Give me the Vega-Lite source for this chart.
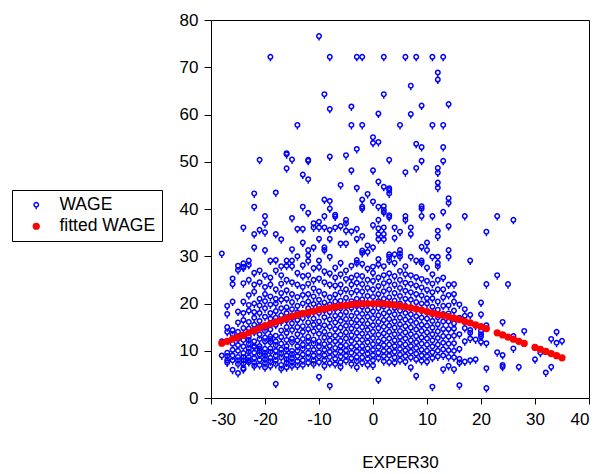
{
  "$schema": "https://vega.github.io/schema/vega-lite/v6.json",
  "width": 378,
  "height": 378,
  "autosize": "none",
  "padding": {"left": 211, "top": 20, "right": 11, "bottom": 76},
  "background": "white",
  "config": {
    "view": {"stroke": "black", "strokeWidth": 1},
    "font": "Liberation Sans",
    "axis": {
      "grid": false,
      "domain": false,
      "tickColor": "black",
      "labelColor": "black",
      "titleColor": "black",
      "labelFont": "Liberation Sans",
      "titleFont": "Liberation Sans",
      "labelFontSize": 17,
      "titleFontSize": 17,
      "titleFontWeight": "normal",
      "labelExpr": "'' + datum.value"
    },
    "legend": {
      "orient": "none",
      "legendX": -199,
      "legendY": 170,
      "strokeColor": "black",
      "fillColor": "white",
      "padding": 6,
      "rowPadding": 2.5,
      "labelFont": "Liberation Sans",
      "labelFontSize": 17.5,
      "labelColor": "black",
      "symbolSize": 52,
      "symbolStrokeWidth": 1.4,
      "symbolOpacity": 1,
      "symbolOffset": 9.5,
      "labelOffset": 14.5
    }
  },
  "data": {
    "values": [
      {"EXPER30":-28,"value":30.6,"series":"WAGE"},{"EXPER30":-28,"value":12.0,"series":"WAGE"},{"EXPER30":-28,"value":9.0,"series":"WAGE"},
      {"EXPER30":-27,"value":19.5,"series":"WAGE"},{"EXPER30":-27,"value":17.8,"series":"WAGE"},{"EXPER30":-27,"value":15.0,"series":"WAGE"},{"EXPER30":-27,"value":14.0,"series":"WAGE"},{"EXPER30":-27,"value":8.9,"series":"WAGE"},{"EXPER30":-27,"value":8.0,"series":"WAGE"},{"EXPER30":-27,"value":7.5,"series":"WAGE"},{"EXPER30":-27,"value":9.6,"series":"WAGE"},
      {"EXPER30":-26,"value":25.3,"series":"WAGE"},{"EXPER30":-26,"value":24.1,"series":"WAGE"},{"EXPER30":-26,"value":20.4,"series":"WAGE"},{"EXPER30":-26,"value":14.4,"series":"WAGE"},{"EXPER30":-26,"value":13.5,"series":"WAGE"},{"EXPER30":-26,"value":10.2,"series":"WAGE"},{"EXPER30":-26,"value":8.0,"series":"WAGE"},{"EXPER30":-26,"value":6.0,"series":"WAGE"},{"EXPER30":-26,"value":9.0,"series":"WAGE"},{"EXPER30":-26,"value":11.5,"series":"WAGE"},
      {"EXPER30":-25,"value":28.0,"series":"WAGE"},{"EXPER30":-25,"value":27.1,"series":"WAGE"},{"EXPER30":-25,"value":18.3,"series":"WAGE"},{"EXPER30":-25,"value":16.0,"series":"WAGE"},{"EXPER30":-25,"value":12.5,"series":"WAGE"},{"EXPER30":-25,"value":11.2,"series":"WAGE"},{"EXPER30":-25,"value":10.0,"series":"WAGE"},{"EXPER30":-25,"value":8.7,"series":"WAGE"},{"EXPER30":-25,"value":8.0,"series":"WAGE"},{"EXPER30":-25,"value":7.2,"series":"WAGE"},{"EXPER30":-25,"value":5.3,"series":"WAGE"},{"EXPER30":-25,"value":14.0,"series":"WAGE"},
      {"EXPER30":-24,"value":36.1,"series":"WAGE"},{"EXPER30":-24,"value":28.5,"series":"WAGE"},{"EXPER30":-24,"value":27.8,"series":"WAGE"},{"EXPER30":-24,"value":27.6,"series":"WAGE"},{"EXPER30":-24,"value":24.3,"series":"WAGE"},{"EXPER30":-24,"value":20.4,"series":"WAGE"},{"EXPER30":-24,"value":16.5,"series":"WAGE"},{"EXPER30":-24,"value":14.8,"series":"WAGE"},{"EXPER30":-24,"value":12.3,"series":"WAGE"},{"EXPER30":-24,"value":10.9,"series":"WAGE"},{"EXPER30":-24,"value":9.5,"series":"WAGE"},{"EXPER30":-24,"value":8.7,"series":"WAGE"},{"EXPER30":-24,"value":8.0,"series":"WAGE"},{"EXPER30":-24,"value":7.3,"series":"WAGE"},{"EXPER30":-24,"value":6.3,"series":"WAGE"},{"EXPER30":-24,"value":6.1,"series":"WAGE"},{"EXPER30":-24,"value":18.0,"series":"WAGE"},
      {"EXPER30":-23,"value":29.1,"series":"WAGE"},{"EXPER30":-23,"value":28.2,"series":"WAGE"},{"EXPER30":-23,"value":25.0,"series":"WAGE"},{"EXPER30":-23,"value":21.8,"series":"WAGE"},{"EXPER30":-23,"value":19.7,"series":"WAGE"},{"EXPER30":-23,"value":18.5,"series":"WAGE"},{"EXPER30":-23,"value":16.1,"series":"WAGE"},{"EXPER30":-23,"value":14.7,"series":"WAGE"},{"EXPER30":-23,"value":13.0,"series":"WAGE"},{"EXPER30":-23,"value":12.3,"series":"WAGE"},{"EXPER30":-23,"value":10.5,"series":"WAGE"},{"EXPER30":-23,"value":9.8,"series":"WAGE"},{"EXPER30":-23,"value":8.7,"series":"WAGE"},{"EXPER30":-23,"value":8.0,"series":"WAGE"},{"EXPER30":-23,"value":7.6,"series":"WAGE"},{"EXPER30":-23,"value":11.5,"series":"WAGE"},
      {"EXPER30":-22,"value":43.3,"series":"WAGE"},{"EXPER30":-22,"value":40.5,"series":"WAGE"},{"EXPER30":-22,"value":34.7,"series":"WAGE"},{"EXPER30":-22,"value":31.9,"series":"WAGE"},{"EXPER30":-22,"value":26.5,"series":"WAGE"},{"EXPER30":-22,"value":24.0,"series":"WAGE"},{"EXPER30":-22,"value":22.5,"series":"WAGE"},{"EXPER30":-22,"value":20.0,"series":"WAGE"},{"EXPER30":-22,"value":18.2,"series":"WAGE"},{"EXPER30":-22,"value":17.0,"series":"WAGE"},{"EXPER30":-22,"value":15.5,"series":"WAGE"},{"EXPER30":-22,"value":14.0,"series":"WAGE"},{"EXPER30":-22,"value":12.0,"series":"WAGE"},{"EXPER30":-22,"value":10.8,"series":"WAGE"},{"EXPER30":-22,"value":9.6,"series":"WAGE"},{"EXPER30":-22,"value":8.5,"series":"WAGE"},{"EXPER30":-22,"value":7.5,"series":"WAGE"},{"EXPER30":-22,"value":6.8,"series":"WAGE"},{"EXPER30":-22,"value":11.0,"series":"WAGE"},
      {"EXPER30":-21,"value":50.4,"series":"WAGE"},{"EXPER30":-21,"value":35.6,"series":"WAGE"},{"EXPER30":-21,"value":27.0,"series":"WAGE"},{"EXPER30":-21,"value":24.5,"series":"WAGE"},{"EXPER30":-21,"value":21.0,"series":"WAGE"},{"EXPER30":-21,"value":19.6,"series":"WAGE"},{"EXPER30":-21,"value":18.0,"series":"WAGE"},{"EXPER30":-21,"value":16.3,"series":"WAGE"},{"EXPER30":-21,"value":15.2,"series":"WAGE"},{"EXPER30":-21,"value":13.5,"series":"WAGE"},{"EXPER30":-21,"value":12.5,"series":"WAGE"},{"EXPER30":-21,"value":11.0,"series":"WAGE"},{"EXPER30":-21,"value":10.0,"series":"WAGE"},{"EXPER30":-21,"value":9.2,"series":"WAGE"},{"EXPER30":-21,"value":8.1,"series":"WAGE"},{"EXPER30":-21,"value":7.0,"series":"WAGE"},{"EXPER30":-21,"value":10.5,"series":"WAGE"},
      {"EXPER30":-20,"value":38.5,"series":"WAGE"},{"EXPER30":-20,"value":37.0,"series":"WAGE"},{"EXPER30":-20,"value":35.1,"series":"WAGE"},{"EXPER30":-20,"value":31.3,"series":"WAGE"},{"EXPER30":-20,"value":26.0,"series":"WAGE"},{"EXPER30":-20,"value":23.5,"series":"WAGE"},{"EXPER30":-20,"value":22.0,"series":"WAGE"},{"EXPER30":-20,"value":20.5,"series":"WAGE"},{"EXPER30":-20,"value":19.0,"series":"WAGE"},{"EXPER30":-20,"value":17.2,"series":"WAGE"},{"EXPER30":-20,"value":15.0,"series":"WAGE"},{"EXPER30":-20,"value":14.2,"series":"WAGE"},{"EXPER30":-20,"value":12.8,"series":"WAGE"},{"EXPER30":-20,"value":12.0,"series":"WAGE"},{"EXPER30":-20,"value":10.4,"series":"WAGE"},{"EXPER30":-20,"value":9.6,"series":"WAGE"},{"EXPER30":-20,"value":9.0,"series":"WAGE"},{"EXPER30":-20,"value":8.2,"series":"WAGE"},{"EXPER30":-20,"value":7.4,"series":"WAGE"},{"EXPER30":-20,"value":6.5,"series":"WAGE"},
      {"EXPER30":-19,"value":72.2,"series":"WAGE"},{"EXPER30":-19,"value":29.1,"series":"WAGE"},{"EXPER30":-19,"value":25.5,"series":"WAGE"},{"EXPER30":-19,"value":24.0,"series":"WAGE"},{"EXPER30":-19,"value":21.5,"series":"WAGE"},{"EXPER30":-19,"value":19.8,"series":"WAGE"},{"EXPER30":-19,"value":18.0,"series":"WAGE"},{"EXPER30":-19,"value":16.8,"series":"WAGE"},{"EXPER30":-19,"value":14.5,"series":"WAGE"},{"EXPER30":-19,"value":13.0,"series":"WAGE"},{"EXPER30":-19,"value":11.8,"series":"WAGE"},{"EXPER30":-19,"value":10.5,"series":"WAGE"},{"EXPER30":-19,"value":9.8,"series":"WAGE"},{"EXPER30":-19,"value":8.5,"series":"WAGE"},{"EXPER30":-19,"value":7.8,"series":"WAGE"},{"EXPER30":-19,"value":6.8,"series":"WAGE"},{"EXPER30":-19,"value":12.5,"series":"WAGE"},
      {"EXPER30":-18,"value":43.5,"series":"WAGE"},{"EXPER30":-18,"value":34.7,"series":"WAGE"},{"EXPER30":-18,"value":29.2,"series":"WAGE"},{"EXPER30":-18,"value":27.0,"series":"WAGE"},{"EXPER30":-18,"value":23.0,"series":"WAGE"},{"EXPER30":-18,"value":21.0,"series":"WAGE"},{"EXPER30":-18,"value":20.0,"series":"WAGE"},{"EXPER30":-18,"value":18.4,"series":"WAGE"},{"EXPER30":-18,"value":17.0,"series":"WAGE"},{"EXPER30":-18,"value":15.5,"series":"WAGE"},{"EXPER30":-18,"value":13.2,"series":"WAGE"},{"EXPER30":-18,"value":12.0,"series":"WAGE"},{"EXPER30":-18,"value":11.2,"series":"WAGE"},{"EXPER30":-18,"value":10.0,"series":"WAGE"},{"EXPER30":-18,"value":9.0,"series":"WAGE"},{"EXPER30":-18,"value":8.0,"series":"WAGE"},{"EXPER30":-18,"value":7.2,"series":"WAGE"},{"EXPER30":-18,"value":3.0,"series":"WAGE"},
      {"EXPER30":-17,"value":33.6,"series":"WAGE"},{"EXPER30":-17,"value":27.9,"series":"WAGE"},{"EXPER30":-17,"value":26.0,"series":"WAGE"},{"EXPER30":-17,"value":24.2,"series":"WAGE"},{"EXPER30":-17,"value":22.2,"series":"WAGE"},{"EXPER30":-17,"value":20.8,"series":"WAGE"},{"EXPER30":-17,"value":19.0,"series":"WAGE"},{"EXPER30":-17,"value":17.5,"series":"WAGE"},{"EXPER30":-17,"value":16.2,"series":"WAGE"},{"EXPER30":-17,"value":14.3,"series":"WAGE"},{"EXPER30":-17,"value":12.9,"series":"WAGE"},{"EXPER30":-17,"value":11.5,"series":"WAGE"},{"EXPER30":-17,"value":10.3,"series":"WAGE"},{"EXPER30":-17,"value":9.5,"series":"WAGE"},{"EXPER30":-17,"value":8.6,"series":"WAGE"},{"EXPER30":-17,"value":7.0,"series":"WAGE"},{"EXPER30":-17,"value":6.2,"series":"WAGE"},
      {"EXPER30":-16,"value":51.8,"series":"WAGE"},{"EXPER30":-16,"value":51.6,"series":"WAGE"},{"EXPER30":-16,"value":48.6,"series":"WAGE"},{"EXPER30":-16,"value":29.1,"series":"WAGE"},{"EXPER30":-16,"value":28.0,"series":"WAGE"},{"EXPER30":-16,"value":25.0,"series":"WAGE"},{"EXPER30":-16,"value":22.8,"series":"WAGE"},{"EXPER30":-16,"value":21.0,"series":"WAGE"},{"EXPER30":-16,"value":19.2,"series":"WAGE"},{"EXPER30":-16,"value":18.0,"series":"WAGE"},{"EXPER30":-16,"value":16.5,"series":"WAGE"},{"EXPER30":-16,"value":15.0,"series":"WAGE"},{"EXPER30":-16,"value":13.8,"series":"WAGE"},{"EXPER30":-16,"value":12.3,"series":"WAGE"},{"EXPER30":-16,"value":11.0,"series":"WAGE"},{"EXPER30":-16,"value":10.2,"series":"WAGE"},{"EXPER30":-16,"value":9.0,"series":"WAGE"},{"EXPER30":-16,"value":8.2,"series":"WAGE"},{"EXPER30":-16,"value":7.5,"series":"WAGE"},{"EXPER30":-16,"value":6.5,"series":"WAGE"},
      {"EXPER30":-15,"value":50.5,"series":"WAGE"},{"EXPER30":-15,"value":38.1,"series":"WAGE"},{"EXPER30":-15,"value":31.5,"series":"WAGE"},{"EXPER30":-15,"value":29.1,"series":"WAGE"},{"EXPER30":-15,"value":27.9,"series":"WAGE"},{"EXPER30":-15,"value":24.5,"series":"WAGE"},{"EXPER30":-15,"value":22.0,"series":"WAGE"},{"EXPER30":-15,"value":20.3,"series":"WAGE"},{"EXPER30":-15,"value":18.8,"series":"WAGE"},{"EXPER30":-15,"value":17.0,"series":"WAGE"},{"EXPER30":-15,"value":15.8,"series":"WAGE"},{"EXPER30":-15,"value":14.4,"series":"WAGE"},{"EXPER30":-15,"value":12.6,"series":"WAGE"},{"EXPER30":-15,"value":11.8,"series":"WAGE"},{"EXPER30":-15,"value":10.0,"series":"WAGE"},{"EXPER30":-15,"value":9.3,"series":"WAGE"},{"EXPER30":-15,"value":8.4,"series":"WAGE"},{"EXPER30":-15,"value":7.6,"series":"WAGE"},{"EXPER30":-15,"value":6.8,"series":"WAGE"},
      {"EXPER30":-14,"value":57.8,"series":"WAGE"},{"EXPER30":-14,"value":35.8,"series":"WAGE"},{"EXPER30":-14,"value":30.0,"series":"WAGE"},{"EXPER30":-14,"value":26.5,"series":"WAGE"},{"EXPER30":-14,"value":24.0,"series":"WAGE"},{"EXPER30":-14,"value":21.4,"series":"WAGE"},{"EXPER30":-14,"value":19.5,"series":"WAGE"},{"EXPER30":-14,"value":18.1,"series":"WAGE"},{"EXPER30":-14,"value":16.5,"series":"WAGE"},{"EXPER30":-14,"value":15.0,"series":"WAGE"},{"EXPER30":-14,"value":13.5,"series":"WAGE"},{"EXPER30":-14,"value":12.2,"series":"WAGE"},{"EXPER30":-14,"value":11.0,"series":"WAGE"},{"EXPER30":-14,"value":10.0,"series":"WAGE"},{"EXPER30":-14,"value":8.9,"series":"WAGE"},{"EXPER30":-14,"value":7.8,"series":"WAGE"},{"EXPER30":-14,"value":6.9,"series":"WAGE"},
      {"EXPER30":-13,"value":47.3,"series":"WAGE"},{"EXPER30":-13,"value":40.5,"series":"WAGE"},{"EXPER30":-13,"value":35.8,"series":"WAGE"},{"EXPER30":-13,"value":32.9,"series":"WAGE"},{"EXPER30":-13,"value":28.1,"series":"WAGE"},{"EXPER30":-13,"value":25.8,"series":"WAGE"},{"EXPER30":-13,"value":23.5,"series":"WAGE"},{"EXPER30":-13,"value":21.8,"series":"WAGE"},{"EXPER30":-13,"value":20.0,"series":"WAGE"},{"EXPER30":-13,"value":18.0,"series":"WAGE"},{"EXPER30":-13,"value":16.9,"series":"WAGE"},{"EXPER30":-13,"value":15.2,"series":"WAGE"},{"EXPER30":-13,"value":14.0,"series":"WAGE"},{"EXPER30":-13,"value":12.5,"series":"WAGE"},{"EXPER30":-13,"value":11.3,"series":"WAGE"},{"EXPER30":-13,"value":10.4,"series":"WAGE"},{"EXPER30":-13,"value":9.2,"series":"WAGE"},{"EXPER30":-13,"value":8.0,"series":"WAGE"},{"EXPER30":-13,"value":7.0,"series":"WAGE"},
      {"EXPER30":-12,"value":50.4,"series":"WAGE"},{"EXPER30":-12,"value":50.2,"series":"WAGE"},{"EXPER30":-12,"value":46.3,"series":"WAGE"},{"EXPER30":-12,"value":39.2,"series":"WAGE"},{"EXPER30":-12,"value":31.3,"series":"WAGE"},{"EXPER30":-12,"value":30.2,"series":"WAGE"},{"EXPER30":-12,"value":29.0,"series":"WAGE"},{"EXPER30":-12,"value":26.0,"series":"WAGE"},{"EXPER30":-12,"value":24.2,"series":"WAGE"},{"EXPER30":-12,"value":22.0,"series":"WAGE"},{"EXPER30":-12,"value":20.4,"series":"WAGE"},{"EXPER30":-12,"value":19.0,"series":"WAGE"},{"EXPER30":-12,"value":17.6,"series":"WAGE"},{"EXPER30":-12,"value":16.0,"series":"WAGE"},{"EXPER30":-12,"value":14.6,"series":"WAGE"},{"EXPER30":-12,"value":13.0,"series":"WAGE"},{"EXPER30":-12,"value":12.0,"series":"WAGE"},{"EXPER30":-12,"value":10.8,"series":"WAGE"},{"EXPER30":-12,"value":9.6,"series":"WAGE"},{"EXPER30":-12,"value":8.6,"series":"WAGE"},{"EXPER30":-12,"value":7.5,"series":"WAGE"},
      {"EXPER30":-11,"value":37.0,"series":"WAGE"},{"EXPER30":-11,"value":36.1,"series":"WAGE"},{"EXPER30":-11,"value":31.9,"series":"WAGE"},{"EXPER30":-11,"value":27.5,"series":"WAGE"},{"EXPER30":-11,"value":25.0,"series":"WAGE"},{"EXPER30":-11,"value":23.2,"series":"WAGE"},{"EXPER30":-11,"value":21.5,"series":"WAGE"},{"EXPER30":-11,"value":19.9,"series":"WAGE"},{"EXPER30":-11,"value":18.3,"series":"WAGE"},{"EXPER30":-11,"value":16.8,"series":"WAGE"},{"EXPER30":-11,"value":15.5,"series":"WAGE"},{"EXPER30":-11,"value":14.1,"series":"WAGE"},{"EXPER30":-11,"value":12.4,"series":"WAGE"},{"EXPER30":-11,"value":11.5,"series":"WAGE"},{"EXPER30":-11,"value":10.2,"series":"WAGE"},{"EXPER30":-11,"value":9.0,"series":"WAGE"},{"EXPER30":-11,"value":8.0,"series":"WAGE"},{"EXPER30":-11,"value":7.2,"series":"WAGE"},
      {"EXPER30":-10,"value":76.6,"series":"WAGE"},{"EXPER30":-10,"value":37.3,"series":"WAGE"},{"EXPER30":-10,"value":36.1,"series":"WAGE"},{"EXPER30":-10,"value":33.7,"series":"WAGE"},{"EXPER30":-10,"value":29.1,"series":"WAGE"},{"EXPER30":-10,"value":27.7,"series":"WAGE"},{"EXPER30":-10,"value":25.3,"series":"WAGE"},{"EXPER30":-10,"value":22.6,"series":"WAGE"},{"EXPER30":-10,"value":20.8,"series":"WAGE"},{"EXPER30":-10,"value":19.5,"series":"WAGE"},{"EXPER30":-10,"value":18.0,"series":"WAGE"},{"EXPER30":-10,"value":16.2,"series":"WAGE"},{"EXPER30":-10,"value":15.0,"series":"WAGE"},{"EXPER30":-10,"value":13.6,"series":"WAGE"},{"EXPER30":-10,"value":12.0,"series":"WAGE"},{"EXPER30":-10,"value":10.9,"series":"WAGE"},{"EXPER30":-10,"value":9.7,"series":"WAGE"},{"EXPER30":-10,"value":8.8,"series":"WAGE"},{"EXPER30":-10,"value":7.6,"series":"WAGE"},{"EXPER30":-10,"value":4.5,"series":"WAGE"},
      {"EXPER30":-9,"value":64.3,"series":"WAGE"},{"EXPER30":-9,"value":42.0,"series":"WAGE"},{"EXPER30":-9,"value":38.5,"series":"WAGE"},{"EXPER30":-9,"value":36.1,"series":"WAGE"},{"EXPER30":-9,"value":31.9,"series":"WAGE"},{"EXPER30":-9,"value":31.3,"series":"WAGE"},{"EXPER30":-9,"value":26.8,"series":"WAGE"},{"EXPER30":-9,"value":24.5,"series":"WAGE"},{"EXPER30":-9,"value":22.0,"series":"WAGE"},{"EXPER30":-9,"value":20.2,"series":"WAGE"},{"EXPER30":-9,"value":18.6,"series":"WAGE"},{"EXPER30":-9,"value":17.1,"series":"WAGE"},{"EXPER30":-9,"value":15.4,"series":"WAGE"},{"EXPER30":-9,"value":14.0,"series":"WAGE"},{"EXPER30":-9,"value":12.8,"series":"WAGE"},{"EXPER30":-9,"value":11.4,"series":"WAGE"},{"EXPER30":-9,"value":10.2,"series":"WAGE"},{"EXPER30":-9,"value":9.1,"series":"WAGE"},{"EXPER30":-9,"value":8.0,"series":"WAGE"},{"EXPER30":-9,"value":6.8,"series":"WAGE"},
      {"EXPER30":-8,"value":72.2,"series":"WAGE"},{"EXPER30":-8,"value":61.2,"series":"WAGE"},{"EXPER30":-8,"value":51.1,"series":"WAGE"},{"EXPER30":-8,"value":41.7,"series":"WAGE"},{"EXPER30":-8,"value":40.1,"series":"WAGE"},{"EXPER30":-8,"value":35.6,"series":"WAGE"},{"EXPER30":-8,"value":33.7,"series":"WAGE"},{"EXPER30":-8,"value":29.9,"series":"WAGE"},{"EXPER30":-8,"value":26.4,"series":"WAGE"},{"EXPER30":-8,"value":24.0,"series":"WAGE"},{"EXPER30":-8,"value":21.3,"series":"WAGE"},{"EXPER30":-8,"value":19.8,"series":"WAGE"},{"EXPER30":-8,"value":18.2,"series":"WAGE"},{"EXPER30":-8,"value":16.6,"series":"WAGE"},{"EXPER30":-8,"value":15.1,"series":"WAGE"},{"EXPER30":-8,"value":13.4,"series":"WAGE"},{"EXPER30":-8,"value":12.2,"series":"WAGE"},{"EXPER30":-8,"value":11.0,"series":"WAGE"},{"EXPER30":-8,"value":9.8,"series":"WAGE"},{"EXPER30":-8,"value":8.7,"series":"WAGE"},{"EXPER30":-8,"value":7.4,"series":"WAGE"},{"EXPER30":-8,"value":2.6,"series":"WAGE"},
      {"EXPER30":-7,"value":38.8,"series":"WAGE"},{"EXPER30":-7,"value":38.4,"series":"WAGE"},{"EXPER30":-7,"value":36.1,"series":"WAGE"},{"EXPER30":-7,"value":27.6,"series":"WAGE"},{"EXPER30":-7,"value":25.5,"series":"WAGE"},{"EXPER30":-7,"value":23.8,"series":"WAGE"},{"EXPER30":-7,"value":21.9,"series":"WAGE"},{"EXPER30":-7,"value":20.4,"series":"WAGE"},{"EXPER30":-7,"value":18.9,"series":"WAGE"},{"EXPER30":-7,"value":17.4,"series":"WAGE"},{"EXPER30":-7,"value":16.0,"series":"WAGE"},{"EXPER30":-7,"value":14.6,"series":"WAGE"},{"EXPER30":-7,"value":13.2,"series":"WAGE"},{"EXPER30":-7,"value":12.0,"series":"WAGE"},{"EXPER30":-7,"value":10.6,"series":"WAGE"},{"EXPER30":-7,"value":9.5,"series":"WAGE"},{"EXPER30":-7,"value":8.3,"series":"WAGE"},{"EXPER30":-7,"value":7.2,"series":"WAGE"},
      {"EXPER30":-6,"value":45.1,"series":"WAGE"},{"EXPER30":-6,"value":36.4,"series":"WAGE"},{"EXPER30":-6,"value":32.7,"series":"WAGE"},{"EXPER30":-6,"value":28.6,"series":"WAGE"},{"EXPER30":-6,"value":26.2,"series":"WAGE"},{"EXPER30":-6,"value":24.0,"series":"WAGE"},{"EXPER30":-6,"value":22.4,"series":"WAGE"},{"EXPER30":-6,"value":20.6,"series":"WAGE"},{"EXPER30":-6,"value":19.0,"series":"WAGE"},{"EXPER30":-6,"value":17.6,"series":"WAGE"},{"EXPER30":-6,"value":16.3,"series":"WAGE"},{"EXPER30":-6,"value":14.9,"series":"WAGE"},{"EXPER30":-6,"value":13.4,"series":"WAGE"},{"EXPER30":-6,"value":12.1,"series":"WAGE"},{"EXPER30":-6,"value":11.0,"series":"WAGE"},{"EXPER30":-6,"value":9.9,"series":"WAGE"},{"EXPER30":-6,"value":8.8,"series":"WAGE"},{"EXPER30":-6,"value":7.6,"series":"WAGE"},{"EXPER30":-6,"value":6.6,"series":"WAGE"},
      {"EXPER30":-5,"value":51.4,"series":"WAGE"},{"EXPER30":-5,"value":37.7,"series":"WAGE"},{"EXPER30":-5,"value":37.0,"series":"WAGE"},{"EXPER30":-5,"value":35.4,"series":"WAGE"},{"EXPER30":-5,"value":32.7,"series":"WAGE"},{"EXPER30":-5,"value":27.0,"series":"WAGE"},{"EXPER30":-5,"value":25.2,"series":"WAGE"},{"EXPER30":-5,"value":23.0,"series":"WAGE"},{"EXPER30":-5,"value":21.2,"series":"WAGE"},{"EXPER30":-5,"value":19.7,"series":"WAGE"},{"EXPER30":-5,"value":18.2,"series":"WAGE"},{"EXPER30":-5,"value":16.7,"series":"WAGE"},{"EXPER30":-5,"value":15.3,"series":"WAGE"},{"EXPER30":-5,"value":13.9,"series":"WAGE"},{"EXPER30":-5,"value":12.6,"series":"WAGE"},{"EXPER30":-5,"value":11.2,"series":"WAGE"},{"EXPER30":-5,"value":10.1,"series":"WAGE"},{"EXPER30":-5,"value":9.0,"series":"WAGE"},{"EXPER30":-5,"value":7.9,"series":"WAGE"},
      {"EXPER30":-4,"value":61.7,"series":"WAGE"},{"EXPER30":-4,"value":57.8,"series":"WAGE"},{"EXPER30":-4,"value":48.2,"series":"WAGE"},{"EXPER30":-4,"value":35.3,"series":"WAGE"},{"EXPER30":-4,"value":28.0,"series":"WAGE"},{"EXPER30":-4,"value":25.5,"series":"WAGE"},{"EXPER30":-4,"value":24.0,"series":"WAGE"},{"EXPER30":-4,"value":22.3,"series":"WAGE"},{"EXPER30":-4,"value":20.5,"series":"WAGE"},{"EXPER30":-4,"value":19.1,"series":"WAGE"},{"EXPER30":-4,"value":17.4,"series":"WAGE"},{"EXPER30":-4,"value":16.0,"series":"WAGE"},{"EXPER30":-4,"value":14.7,"series":"WAGE"},{"EXPER30":-4,"value":13.3,"series":"WAGE"},{"EXPER30":-4,"value":12.1,"series":"WAGE"},{"EXPER30":-4,"value":10.8,"series":"WAGE"},{"EXPER30":-4,"value":9.6,"series":"WAGE"},{"EXPER30":-4,"value":8.4,"series":"WAGE"},{"EXPER30":-4,"value":7.2,"series":"WAGE"},
      {"EXPER30":-3,"value":72.2,"series":"WAGE"},{"EXPER30":-3,"value":52.7,"series":"WAGE"},{"EXPER30":-3,"value":44.5,"series":"WAGE"},{"EXPER30":-3,"value":35.8,"series":"WAGE"},{"EXPER30":-3,"value":33.7,"series":"WAGE"},{"EXPER30":-3,"value":29.2,"series":"WAGE"},{"EXPER30":-3,"value":28.6,"series":"WAGE"},{"EXPER30":-3,"value":26.0,"series":"WAGE"},{"EXPER30":-3,"value":24.4,"series":"WAGE"},{"EXPER30":-3,"value":22.7,"series":"WAGE"},{"EXPER30":-3,"value":21.0,"series":"WAGE"},{"EXPER30":-3,"value":19.5,"series":"WAGE"},{"EXPER30":-3,"value":18.0,"series":"WAGE"},{"EXPER30":-3,"value":16.5,"series":"WAGE"},{"EXPER30":-3,"value":15.2,"series":"WAGE"},{"EXPER30":-3,"value":13.8,"series":"WAGE"},{"EXPER30":-3,"value":12.4,"series":"WAGE"},{"EXPER30":-3,"value":11.0,"series":"WAGE"},{"EXPER30":-3,"value":9.9,"series":"WAGE"},{"EXPER30":-3,"value":8.7,"series":"WAGE"},{"EXPER30":-3,"value":7.8,"series":"WAGE"},{"EXPER30":-3,"value":6.5,"series":"WAGE"},
      {"EXPER30":-2,"value":72.2,"series":"WAGE"},{"EXPER30":-2,"value":57.8,"series":"WAGE"},{"EXPER30":-2,"value":42.0,"series":"WAGE"},{"EXPER30":-2,"value":40.5,"series":"WAGE"},{"EXPER30":-2,"value":40.1,"series":"WAGE"},{"EXPER30":-2,"value":34.3,"series":"WAGE"},{"EXPER30":-2,"value":31.2,"series":"WAGE"},{"EXPER30":-2,"value":30.7,"series":"WAGE"},{"EXPER30":-2,"value":28.4,"series":"WAGE"},{"EXPER30":-2,"value":25.8,"series":"WAGE"},{"EXPER30":-2,"value":24.1,"series":"WAGE"},{"EXPER30":-2,"value":22.5,"series":"WAGE"},{"EXPER30":-2,"value":20.9,"series":"WAGE"},{"EXPER30":-2,"value":19.3,"series":"WAGE"},{"EXPER30":-2,"value":17.8,"series":"WAGE"},{"EXPER30":-2,"value":16.4,"series":"WAGE"},{"EXPER30":-2,"value":15.0,"series":"WAGE"},{"EXPER30":-2,"value":13.6,"series":"WAGE"},{"EXPER30":-2,"value":12.3,"series":"WAGE"},{"EXPER30":-2,"value":11.0,"series":"WAGE"},{"EXPER30":-2,"value":9.8,"series":"WAGE"},{"EXPER30":-2,"value":8.6,"series":"WAGE"},{"EXPER30":-2,"value":7.5,"series":"WAGE"},
      {"EXPER30":-1,"value":43.2,"series":"WAGE"},{"EXPER30":-1,"value":32.3,"series":"WAGE"},{"EXPER30":-1,"value":30.9,"series":"WAGE"},{"EXPER30":-1,"value":27.4,"series":"WAGE"},{"EXPER30":-1,"value":25.0,"series":"WAGE"},{"EXPER30":-1,"value":23.3,"series":"WAGE"},{"EXPER30":-1,"value":21.6,"series":"WAGE"},{"EXPER30":-1,"value":20.0,"series":"WAGE"},{"EXPER30":-1,"value":18.6,"series":"WAGE"},{"EXPER30":-1,"value":17.2,"series":"WAGE"},{"EXPER30":-1,"value":15.7,"series":"WAGE"},{"EXPER30":-1,"value":14.4,"series":"WAGE"},{"EXPER30":-1,"value":13.0,"series":"WAGE"},{"EXPER30":-1,"value":11.8,"series":"WAGE"},{"EXPER30":-1,"value":10.5,"series":"WAGE"},{"EXPER30":-1,"value":9.4,"series":"WAGE"},{"EXPER30":-1,"value":8.3,"series":"WAGE"},{"EXPER30":-1,"value":7.0,"series":"WAGE"},
      {"EXPER30":0,"value":55.2,"series":"WAGE"},{"EXPER30":0,"value":54.0,"series":"WAGE"},{"EXPER30":0,"value":48.2,"series":"WAGE"},{"EXPER30":0,"value":41.6,"series":"WAGE"},{"EXPER30":0,"value":36.6,"series":"WAGE"},{"EXPER30":0,"value":31.9,"series":"WAGE"},{"EXPER30":0,"value":27.8,"series":"WAGE"},{"EXPER30":0,"value":26.5,"series":"WAGE"},{"EXPER30":0,"value":24.8,"series":"WAGE"},{"EXPER30":0,"value":23.0,"series":"WAGE"},{"EXPER30":0,"value":21.4,"series":"WAGE"},{"EXPER30":0,"value":19.8,"series":"WAGE"},{"EXPER30":0,"value":18.3,"series":"WAGE"},{"EXPER30":0,"value":16.9,"series":"WAGE"},{"EXPER30":0,"value":15.4,"series":"WAGE"},{"EXPER30":0,"value":14.0,"series":"WAGE"},{"EXPER30":0,"value":12.7,"series":"WAGE"},{"EXPER30":0,"value":11.4,"series":"WAGE"},{"EXPER30":0,"value":10.2,"series":"WAGE"},{"EXPER30":0,"value":9.1,"series":"WAGE"},{"EXPER30":0,"value":8.0,"series":"WAGE"},{"EXPER30":0,"value":6.9,"series":"WAGE"},
      {"EXPER30":1,"value":60.2,"series":"WAGE"},{"EXPER30":1,"value":54.2,"series":"WAGE"},{"EXPER30":1,"value":45.8,"series":"WAGE"},{"EXPER30":1,"value":40.5,"series":"WAGE"},{"EXPER30":1,"value":37.7,"series":"WAGE"},{"EXPER30":1,"value":35.9,"series":"WAGE"},{"EXPER30":1,"value":34.7,"series":"WAGE"},{"EXPER30":1,"value":33.6,"series":"WAGE"},{"EXPER30":1,"value":29.4,"series":"WAGE"},{"EXPER30":1,"value":28.3,"series":"WAGE"},{"EXPER30":1,"value":25.5,"series":"WAGE"},{"EXPER30":1,"value":23.7,"series":"WAGE"},{"EXPER30":1,"value":22.0,"series":"WAGE"},{"EXPER30":1,"value":20.5,"series":"WAGE"},{"EXPER30":1,"value":19.0,"series":"WAGE"},{"EXPER30":1,"value":17.5,"series":"WAGE"},{"EXPER30":1,"value":16.1,"series":"WAGE"},{"EXPER30":1,"value":14.8,"series":"WAGE"},{"EXPER30":1,"value":13.4,"series":"WAGE"},{"EXPER30":1,"value":12.0,"series":"WAGE"},{"EXPER30":1,"value":10.8,"series":"WAGE"},{"EXPER30":1,"value":9.6,"series":"WAGE"},{"EXPER30":1,"value":8.5,"series":"WAGE"},{"EXPER30":1,"value":3.9,"series":"WAGE"},
      {"EXPER30":2,"value":72.2,"series":"WAGE"},{"EXPER30":2,"value":64.3,"series":"WAGE"},{"EXPER30":2,"value":44.7,"series":"WAGE"},{"EXPER30":2,"value":40.6,"series":"WAGE"},{"EXPER30":2,"value":39.8,"series":"WAGE"},{"EXPER30":2,"value":39.3,"series":"WAGE"},{"EXPER30":2,"value":36.1,"series":"WAGE"},{"EXPER30":2,"value":34.7,"series":"WAGE"},{"EXPER30":2,"value":33.6,"series":"WAGE"},{"EXPER30":2,"value":27.9,"series":"WAGE"},{"EXPER30":2,"value":26.0,"series":"WAGE"},{"EXPER30":2,"value":24.3,"series":"WAGE"},{"EXPER30":2,"value":22.6,"series":"WAGE"},{"EXPER30":2,"value":21.0,"series":"WAGE"},{"EXPER30":2,"value":19.4,"series":"WAGE"},{"EXPER30":2,"value":17.9,"series":"WAGE"},{"EXPER30":2,"value":16.5,"series":"WAGE"},{"EXPER30":2,"value":15.1,"series":"WAGE"},{"EXPER30":2,"value":13.7,"series":"WAGE"},{"EXPER30":2,"value":12.4,"series":"WAGE"},{"EXPER30":2,"value":11.2,"series":"WAGE"},{"EXPER30":2,"value":10.0,"series":"WAGE"},{"EXPER30":2,"value":8.9,"series":"WAGE"},{"EXPER30":2,"value":7.8,"series":"WAGE"},
      {"EXPER30":3,"value":50.4,"series":"WAGE"},{"EXPER30":3,"value":44.4,"series":"WAGE"},{"EXPER30":3,"value":44.0,"series":"WAGE"},{"EXPER30":3,"value":43.3,"series":"WAGE"},{"EXPER30":3,"value":38.7,"series":"WAGE"},{"EXPER30":3,"value":38.3,"series":"WAGE"},{"EXPER30":3,"value":30.4,"series":"WAGE"},{"EXPER30":3,"value":29.9,"series":"WAGE"},{"EXPER30":3,"value":29.1,"series":"WAGE"},{"EXPER30":3,"value":26.4,"series":"WAGE"},{"EXPER30":3,"value":24.7,"series":"WAGE"},{"EXPER30":3,"value":23.0,"series":"WAGE"},{"EXPER30":3,"value":21.3,"series":"WAGE"},{"EXPER30":3,"value":19.7,"series":"WAGE"},{"EXPER30":3,"value":18.2,"series":"WAGE"},{"EXPER30":3,"value":16.7,"series":"WAGE"},{"EXPER30":3,"value":15.3,"series":"WAGE"},{"EXPER30":3,"value":14.0,"series":"WAGE"},{"EXPER30":3,"value":12.6,"series":"WAGE"},{"EXPER30":3,"value":11.3,"series":"WAGE"},{"EXPER30":3,"value":10.1,"series":"WAGE"},{"EXPER30":3,"value":9.0,"series":"WAGE"},{"EXPER30":3,"value":7.6,"series":"WAGE"},
      {"EXPER30":4,"value":36.1,"series":"WAGE"},{"EXPER30":4,"value":33.9,"series":"WAGE"},{"EXPER30":4,"value":30.4,"series":"WAGE"},{"EXPER30":4,"value":28.6,"series":"WAGE"},{"EXPER30":4,"value":25.8,"series":"WAGE"},{"EXPER30":4,"value":24.0,"series":"WAGE"},{"EXPER30":4,"value":22.2,"series":"WAGE"},{"EXPER30":4,"value":20.6,"series":"WAGE"},{"EXPER30":4,"value":19.1,"series":"WAGE"},{"EXPER30":4,"value":17.7,"series":"WAGE"},{"EXPER30":4,"value":16.2,"series":"WAGE"},{"EXPER30":4,"value":14.9,"series":"WAGE"},{"EXPER30":4,"value":13.5,"series":"WAGE"},{"EXPER30":4,"value":12.2,"series":"WAGE"},{"EXPER30":4,"value":11.0,"series":"WAGE"},{"EXPER30":4,"value":9.8,"series":"WAGE"},{"EXPER30":4,"value":8.6,"series":"WAGE"},{"EXPER30":4,"value":7.5,"series":"WAGE"},
      {"EXPER30":5,"value":57.8,"series":"WAGE"},{"EXPER30":5,"value":35.2,"series":"WAGE"},{"EXPER30":5,"value":31.3,"series":"WAGE"},{"EXPER30":5,"value":30.6,"series":"WAGE"},{"EXPER30":5,"value":29.9,"series":"WAGE"},{"EXPER30":5,"value":26.9,"series":"WAGE"},{"EXPER30":5,"value":25.0,"series":"WAGE"},{"EXPER30":5,"value":23.3,"series":"WAGE"},{"EXPER30":5,"value":21.6,"series":"WAGE"},{"EXPER30":5,"value":20.0,"series":"WAGE"},{"EXPER30":5,"value":18.5,"series":"WAGE"},{"EXPER30":5,"value":17.0,"series":"WAGE"},{"EXPER30":5,"value":15.6,"series":"WAGE"},{"EXPER30":5,"value":14.2,"series":"WAGE"},{"EXPER30":5,"value":12.9,"series":"WAGE"},{"EXPER30":5,"value":11.6,"series":"WAGE"},{"EXPER30":5,"value":10.4,"series":"WAGE"},{"EXPER30":5,"value":9.2,"series":"WAGE"},{"EXPER30":5,"value":8.0,"series":"WAGE"},
      {"EXPER30":6,"value":72.2,"series":"WAGE"},{"EXPER30":6,"value":47.8,"series":"WAGE"},{"EXPER30":6,"value":38.5,"series":"WAGE"},{"EXPER30":6,"value":37.7,"series":"WAGE"},{"EXPER30":6,"value":27.9,"series":"WAGE"},{"EXPER30":6,"value":26.2,"series":"WAGE"},{"EXPER30":6,"value":24.4,"series":"WAGE"},{"EXPER30":6,"value":22.7,"series":"WAGE"},{"EXPER30":6,"value":21.0,"series":"WAGE"},{"EXPER30":6,"value":19.5,"series":"WAGE"},{"EXPER30":6,"value":18.0,"series":"WAGE"},{"EXPER30":6,"value":16.6,"series":"WAGE"},{"EXPER30":6,"value":15.2,"series":"WAGE"},{"EXPER30":6,"value":13.9,"series":"WAGE"},{"EXPER30":6,"value":12.6,"series":"WAGE"},{"EXPER30":6,"value":11.3,"series":"WAGE"},{"EXPER30":6,"value":10.1,"series":"WAGE"},{"EXPER30":6,"value":8.9,"series":"WAGE"},{"EXPER30":6,"value":7.7,"series":"WAGE"},
      {"EXPER30":7,"value":66.1,"series":"WAGE"},{"EXPER30":7,"value":60.1,"series":"WAGE"},{"EXPER30":7,"value":36.1,"series":"WAGE"},{"EXPER30":7,"value":34.7,"series":"WAGE"},{"EXPER30":7,"value":29.9,"series":"WAGE"},{"EXPER30":7,"value":26.0,"series":"WAGE"},{"EXPER30":7,"value":24.2,"series":"WAGE"},{"EXPER30":7,"value":22.4,"series":"WAGE"},{"EXPER30":7,"value":20.8,"series":"WAGE"},{"EXPER30":7,"value":19.2,"series":"WAGE"},{"EXPER30":7,"value":17.7,"series":"WAGE"},{"EXPER30":7,"value":16.3,"series":"WAGE"},{"EXPER30":7,"value":14.9,"series":"WAGE"},{"EXPER30":7,"value":13.5,"series":"WAGE"},{"EXPER30":7,"value":12.2,"series":"WAGE"},{"EXPER30":7,"value":11.0,"series":"WAGE"},{"EXPER30":7,"value":9.8,"series":"WAGE"},{"EXPER30":7,"value":8.6,"series":"WAGE"},{"EXPER30":7,"value":6.5,"series":"WAGE"},
      {"EXPER30":8,"value":72.2,"series":"WAGE"},{"EXPER30":8,"value":53.8,"series":"WAGE"},{"EXPER30":8,"value":48.7,"series":"WAGE"},{"EXPER30":8,"value":29.1,"series":"WAGE"},{"EXPER30":8,"value":25.6,"series":"WAGE"},{"EXPER30":8,"value":23.8,"series":"WAGE"},{"EXPER30":8,"value":22.0,"series":"WAGE"},{"EXPER30":8,"value":20.3,"series":"WAGE"},{"EXPER30":8,"value":18.8,"series":"WAGE"},{"EXPER30":8,"value":17.3,"series":"WAGE"},{"EXPER30":8,"value":15.9,"series":"WAGE"},{"EXPER30":8,"value":14.5,"series":"WAGE"},{"EXPER30":8,"value":13.1,"series":"WAGE"},{"EXPER30":8,"value":11.8,"series":"WAGE"},{"EXPER30":8,"value":10.6,"series":"WAGE"},{"EXPER30":8,"value":9.4,"series":"WAGE"},{"EXPER30":8,"value":8.2,"series":"WAGE"},{"EXPER30":8,"value":4.7,"series":"WAGE"},
      {"EXPER30":9,"value":61.9,"series":"WAGE"},{"EXPER30":9,"value":53.1,"series":"WAGE"},{"EXPER30":9,"value":50.2,"series":"WAGE"},{"EXPER30":9,"value":40.6,"series":"WAGE"},{"EXPER30":9,"value":40.1,"series":"WAGE"},{"EXPER30":9,"value":38.5,"series":"WAGE"},{"EXPER30":9,"value":32.0,"series":"WAGE"},{"EXPER30":9,"value":29.1,"series":"WAGE"},{"EXPER30":9,"value":28.6,"series":"WAGE"},{"EXPER30":9,"value":25.2,"series":"WAGE"},{"EXPER30":9,"value":23.4,"series":"WAGE"},{"EXPER30":9,"value":21.7,"series":"WAGE"},{"EXPER30":9,"value":20.0,"series":"WAGE"},{"EXPER30":9,"value":18.5,"series":"WAGE"},{"EXPER30":9,"value":17.0,"series":"WAGE"},{"EXPER30":9,"value":15.5,"series":"WAGE"},{"EXPER30":9,"value":14.2,"series":"WAGE"},{"EXPER30":9,"value":12.8,"series":"WAGE"},{"EXPER30":9,"value":11.5,"series":"WAGE"},{"EXPER30":9,"value":10.2,"series":"WAGE"},{"EXPER30":9,"value":9.0,"series":"WAGE"},{"EXPER30":9,"value":7.9,"series":"WAGE"},
      {"EXPER30":10,"value":32.9,"series":"WAGE"},{"EXPER30":10,"value":31.3,"series":"WAGE"},{"EXPER30":10,"value":27.6,"series":"WAGE"},{"EXPER30":10,"value":24.8,"series":"WAGE"},{"EXPER30":10,"value":22.9,"series":"WAGE"},{"EXPER30":10,"value":21.1,"series":"WAGE"},{"EXPER30":10,"value":20.0,"series":"WAGE"},{"EXPER30":10,"value":18.3,"series":"WAGE"},{"EXPER30":10,"value":16.8,"series":"WAGE"},{"EXPER30":10,"value":15.3,"series":"WAGE"},{"EXPER30":10,"value":13.9,"series":"WAGE"},{"EXPER30":10,"value":12.6,"series":"WAGE"},{"EXPER30":10,"value":11.3,"series":"WAGE"},{"EXPER30":10,"value":10.0,"series":"WAGE"},{"EXPER30":10,"value":8.9,"series":"WAGE"},{"EXPER30":10,"value":7.7,"series":"WAGE"},
      {"EXPER30":11,"value":72.2,"series":"WAGE"},{"EXPER30":11,"value":57.8,"series":"WAGE"},{"EXPER30":11,"value":38.5,"series":"WAGE"},{"EXPER30":11,"value":29.9,"series":"WAGE"},{"EXPER30":11,"value":26.2,"series":"WAGE"},{"EXPER30":11,"value":24.2,"series":"WAGE"},{"EXPER30":11,"value":22.4,"series":"WAGE"},{"EXPER30":11,"value":21.1,"series":"WAGE"},{"EXPER30":11,"value":19.3,"series":"WAGE"},{"EXPER30":11,"value":17.8,"series":"WAGE"},{"EXPER30":11,"value":16.3,"series":"WAGE"},{"EXPER30":11,"value":14.9,"series":"WAGE"},{"EXPER30":11,"value":13.5,"series":"WAGE"},{"EXPER30":11,"value":12.2,"series":"WAGE"},{"EXPER30":11,"value":10.9,"series":"WAGE"},{"EXPER30":11,"value":9.7,"series":"WAGE"},{"EXPER30":11,"value":8.5,"series":"WAGE"},{"EXPER30":11,"value":2.4,"series":"WAGE"},
      {"EXPER30":12,"value":68.9,"series":"WAGE"},{"EXPER30":12,"value":67.4,"series":"WAGE"},{"EXPER30":12,"value":48.7,"series":"WAGE"},{"EXPER30":12,"value":47.7,"series":"WAGE"},{"EXPER30":12,"value":45.6,"series":"WAGE"},{"EXPER30":12,"value":44.5,"series":"WAGE"},{"EXPER30":12,"value":35.4,"series":"WAGE"},{"EXPER30":12,"value":34.2,"series":"WAGE"},{"EXPER30":12,"value":29.9,"series":"WAGE"},{"EXPER30":12,"value":28.6,"series":"WAGE"},{"EXPER30":12,"value":27.9,"series":"WAGE"},{"EXPER30":12,"value":25.0,"series":"WAGE"},{"EXPER30":12,"value":23.0,"series":"WAGE"},{"EXPER30":12,"value":20.4,"series":"WAGE"},{"EXPER30":12,"value":18.7,"series":"WAGE"},{"EXPER30":12,"value":17.1,"series":"WAGE"},{"EXPER30":12,"value":15.6,"series":"WAGE"},{"EXPER30":12,"value":14.1,"series":"WAGE"},{"EXPER30":12,"value":12.7,"series":"WAGE"},{"EXPER30":12,"value":11.3,"series":"WAGE"},{"EXPER30":12,"value":10.0,"series":"WAGE"},{"EXPER30":12,"value":8.8,"series":"WAGE"},
      {"EXPER30":13,"value":72.2,"series":"WAGE"},{"EXPER30":13,"value":57.8,"series":"WAGE"},{"EXPER30":13,"value":53.1,"series":"WAGE"},{"EXPER30":13,"value":50.2,"series":"WAGE"},{"EXPER30":13,"value":39.4,"series":"WAGE"},{"EXPER30":13,"value":25.5,"series":"WAGE"},{"EXPER30":13,"value":23.0,"series":"WAGE"},{"EXPER30":13,"value":21.3,"series":"WAGE"},{"EXPER30":13,"value":19.5,"series":"WAGE"},{"EXPER30":13,"value":17.8,"series":"WAGE"},{"EXPER30":13,"value":16.2,"series":"WAGE"},{"EXPER30":13,"value":14.6,"series":"WAGE"},{"EXPER30":13,"value":13.1,"series":"WAGE"},{"EXPER30":13,"value":11.7,"series":"WAGE"},{"EXPER30":13,"value":10.3,"series":"WAGE"},{"EXPER30":13,"value":9.0,"series":"WAGE"},{"EXPER30":13,"value":6.1,"series":"WAGE"},
      {"EXPER30":14,"value":62.2,"series":"WAGE"},{"EXPER30":14,"value":42.3,"series":"WAGE"},{"EXPER30":14,"value":41.3,"series":"WAGE"},{"EXPER30":14,"value":36.4,"series":"WAGE"},{"EXPER30":14,"value":31.3,"series":"WAGE"},{"EXPER30":14,"value":29.9,"series":"WAGE"},{"EXPER30":14,"value":24.0,"series":"WAGE"},{"EXPER30":14,"value":21.8,"series":"WAGE"},{"EXPER30":14,"value":19.6,"series":"WAGE"},{"EXPER30":14,"value":17.9,"series":"WAGE"},{"EXPER30":14,"value":16.2,"series":"WAGE"},{"EXPER30":14,"value":14.6,"series":"WAGE"},{"EXPER30":14,"value":13.0,"series":"WAGE"},{"EXPER30":14,"value":11.5,"series":"WAGE"},{"EXPER30":14,"value":10.1,"series":"WAGE"},{"EXPER30":14,"value":8.7,"series":"WAGE"},{"EXPER30":14,"value":6.8,"series":"WAGE"},
      {"EXPER30":15,"value":24.1,"series":"WAGE"},{"EXPER30":15,"value":22.0,"series":"WAGE"},{"EXPER30":15,"value":20.4,"series":"WAGE"},{"EXPER30":15,"value":18.5,"series":"WAGE"},{"EXPER30":15,"value":15.8,"series":"WAGE"},{"EXPER30":15,"value":14.7,"series":"WAGE"},{"EXPER30":15,"value":13.2,"series":"WAGE"},{"EXPER30":15,"value":11.6,"series":"WAGE"},{"EXPER30":15,"value":10.0,"series":"WAGE"},{"EXPER30":15,"value":8.6,"series":"WAGE"},{"EXPER30":15,"value":6.1,"series":"WAGE"},
      {"EXPER30":16,"value":19.8,"series":"WAGE"},{"EXPER30":16,"value":17.0,"series":"WAGE"},{"EXPER30":16,"value":13.5,"series":"WAGE"},{"EXPER30":16,"value":10.4,"series":"WAGE"},{"EXPER30":16,"value":8.3,"series":"WAGE"},{"EXPER30":16,"value":7.5,"series":"WAGE"},{"EXPER30":16,"value":2.7,"series":"WAGE"},
      {"EXPER30":17,"value":38.5,"series":"WAGE"},{"EXPER30":17,"value":18.8,"series":"WAGE"},{"EXPER30":17,"value":17.4,"series":"WAGE"},{"EXPER30":17,"value":14.8,"series":"WAGE"},{"EXPER30":17,"value":12.0,"series":"WAGE"},{"EXPER30":17,"value":7.7,"series":"WAGE"},
      {"EXPER30":18,"value":29.1,"series":"WAGE"},{"EXPER30":18,"value":17.6,"series":"WAGE"},{"EXPER30":18,"value":14.4,"series":"WAGE"},{"EXPER30":18,"value":13.8,"series":"WAGE"},{"EXPER30":18,"value":12.6,"series":"WAGE"},{"EXPER30":18,"value":8.0,"series":"WAGE"},
      {"EXPER30":19,"value":15.3,"series":"WAGE"},{"EXPER30":19,"value":12.4,"series":"WAGE"},{"EXPER30":19,"value":8.2,"series":"WAGE"},
      {"EXPER30":20,"value":20.2,"series":"WAGE"},{"EXPER30":20,"value":17.7,"series":"WAGE"},{"EXPER30":20,"value":14.2,"series":"WAGE"},{"EXPER30":20,"value":13.5,"series":"WAGE"},{"EXPER30":20,"value":13.0,"series":"WAGE"},{"EXPER30":20,"value":11.9,"series":"WAGE"},
      {"EXPER30":21,"value":35.2,"series":"WAGE"},{"EXPER30":21,"value":24.1,"series":"WAGE"},{"EXPER30":21,"value":15.4,"series":"WAGE"},{"EXPER30":21,"value":11.6,"series":"WAGE"},{"EXPER30":21,"value":6.3,"series":"WAGE"},{"EXPER30":21,"value":2.1,"series":"WAGE"},
      {"EXPER30":23,"value":38.5,"series":"WAGE"},{"EXPER30":23,"value":26.0,"series":"WAGE"},{"EXPER30":23,"value":9.7,"series":"WAGE"},
      {"EXPER30":24,"value":16.1,"series":"WAGE"},{"EXPER30":24,"value":9.1,"series":"WAGE"},{"EXPER30":24,"value":7.0,"series":"WAGE"},{"EXPER30":24,"value":6.6,"series":"WAGE"},
      {"EXPER30":25,"value":24.1,"series":"WAGE"},
      {"EXPER30":26,"value":37.7,"series":"WAGE"},{"EXPER30":26,"value":13.1,"series":"WAGE"},{"EXPER30":26,"value":10.5,"series":"WAGE"},
      {"EXPER30":27,"value":6.6,"series":"WAGE"},
      {"EXPER30":28,"value":14.2,"series":"WAGE"},
      {"EXPER30":30,"value":8.2,"series":"WAGE"},
      {"EXPER30":31,"value":9.6,"series":"WAGE"},
      {"EXPER30":32,"value":5.4,"series":"WAGE"},
      {"EXPER30":33,"value":12.5,"series":"WAGE"},{"EXPER30":33,"value":6.6,"series":"WAGE"},
      {"EXPER30":34,"value":14.0,"series":"WAGE"},{"EXPER30":34,"value":11.7,"series":"WAGE"},
      {"EXPER30":35,"value":12.1,"series":"WAGE"},
      {"EXPER30":-28,"value":11.6,"series":"fitted WAGE"},{"EXPER30":-27,"value":12.0,"series":"fitted WAGE"},{"EXPER30":-26,"value":12.5,"series":"fitted WAGE"},{"EXPER30":-25,"value":12.9,"series":"fitted WAGE"},
      {"EXPER30":-24,"value":13.3,"series":"fitted WAGE"},{"EXPER30":-23,"value":13.8,"series":"fitted WAGE"},{"EXPER30":-22,"value":14.3,"series":"fitted WAGE"},{"EXPER30":-21,"value":14.8,"series":"fitted WAGE"},
      {"EXPER30":-20,"value":15.3,"series":"fitted WAGE"},{"EXPER30":-19,"value":15.7,"series":"fitted WAGE"},{"EXPER30":-18,"value":16.1,"series":"fitted WAGE"},{"EXPER30":-17,"value":16.5,"series":"fitted WAGE"},
      {"EXPER30":-16,"value":16.9,"series":"fitted WAGE"},{"EXPER30":-15,"value":17.3,"series":"fitted WAGE"},{"EXPER30":-14,"value":17.6,"series":"fitted WAGE"},{"EXPER30":-13,"value":17.9,"series":"fitted WAGE"},
      {"EXPER30":-12,"value":18.1,"series":"fitted WAGE"},{"EXPER30":-11,"value":18.4,"series":"fitted WAGE"},{"EXPER30":-10,"value":18.7,"series":"fitted WAGE"},{"EXPER30":-9,"value":18.9,"series":"fitted WAGE"},
      {"EXPER30":-8,"value":19.1,"series":"fitted WAGE"},{"EXPER30":-7,"value":19.3,"series":"fitted WAGE"},{"EXPER30":-6,"value":19.5,"series":"fitted WAGE"},{"EXPER30":-5,"value":19.6,"series":"fitted WAGE"},
      {"EXPER30":-4,"value":19.8,"series":"fitted WAGE"},{"EXPER30":-3,"value":19.9,"series":"fitted WAGE"},{"EXPER30":-2,"value":19.95,"series":"fitted WAGE"},{"EXPER30":-1,"value":20.0,"series":"fitted WAGE"},
      {"EXPER30":0,"value":20.0,"series":"fitted WAGE"},{"EXPER30":1,"value":20.0,"series":"fitted WAGE"},{"EXPER30":2,"value":19.95,"series":"fitted WAGE"},{"EXPER30":3,"value":19.85,"series":"fitted WAGE"},
      {"EXPER30":4,"value":19.7,"series":"fitted WAGE"},{"EXPER30":5,"value":19.5,"series":"fitted WAGE"},{"EXPER30":6,"value":19.3,"series":"fitted WAGE"},{"EXPER30":7,"value":19.1,"series":"fitted WAGE"},
      {"EXPER30":8,"value":18.85,"series":"fitted WAGE"},{"EXPER30":9,"value":18.6,"series":"fitted WAGE"},{"EXPER30":10,"value":18.3,"series":"fitted WAGE"},{"EXPER30":11,"value":17.95,"series":"fitted WAGE"},
      {"EXPER30":12,"value":17.7,"series":"fitted WAGE"},{"EXPER30":13,"value":17.5,"series":"fitted WAGE"},{"EXPER30":14,"value":17.2,"series":"fitted WAGE"},{"EXPER30":15,"value":16.9,"series":"fitted WAGE"},
      {"EXPER30":16,"value":16.6,"series":"fitted WAGE"},{"EXPER30":17,"value":16.2,"series":"fitted WAGE"},{"EXPER30":18,"value":15.9,"series":"fitted WAGE"},{"EXPER30":19,"value":15.5,"series":"fitted WAGE"},
      {"EXPER30":20,"value":15.1,"series":"fitted WAGE"},{"EXPER30":21,"value":14.7,"series":"fitted WAGE"},
      {"EXPER30":23,"value":13.8,"series":"fitted WAGE"},{"EXPER30":24,"value":13.35,"series":"fitted WAGE"},{"EXPER30":25,"value":12.9,"series":"fitted WAGE"},{"EXPER30":26,"value":12.45,"series":"fitted WAGE"},
      {"EXPER30":27,"value":12.0,"series":"fitted WAGE"},{"EXPER30":28,"value":11.55,"series":"fitted WAGE"},
      {"EXPER30":30,"value":10.7,"series":"fitted WAGE"},{"EXPER30":31,"value":10.3,"series":"fitted WAGE"},{"EXPER30":32,"value":9.85,"series":"fitted WAGE"},{"EXPER30":33,"value":9.4,"series":"fitted WAGE"},
      {"EXPER30":34,"value":8.95,"series":"fitted WAGE"},{"EXPER30":35,"value":8.5,"series":"fitted WAGE"}
    ]
  },
  "mark": {"type": "point", "size": 52, "strokeWidth": 1.5, "opacity": 1},
  "encoding": {
    "x": {
      "field": "EXPER30", "type": "quantitative",
      "scale": {"domain": [-30, 40], "nice": false, "zero": false},
      "axis": {"values": [-30, -20, -10, 0, 10, 20, 30, 40], "tickSize": 6, "labelPadding": 7, "titlePadding": 27, "title": "EXPER30"}
    },
    "y": {
      "field": "value", "type": "quantitative",
      "scale": {"domain": [0, 80], "nice": false},
      "axis": {"values": [0, 10, 20, 30, 40, 50, 60, 70, 80], "tickSize": 7, "labelPadding": 6, "title": null}
    },
    "fill": {
      "field": "series", "type": "nominal", "title": null,
      "scale": {"domain": ["WAGE", "fitted WAGE"], "range": ["transparent", "#ff0000"]}
    },
    "stroke": {
      "field": "series", "type": "nominal", "title": null,
      "scale": {"domain": ["WAGE", "fitted WAGE"], "range": ["#0000ff", "transparent"]}
    },
    "shape": {
      "field": "series", "type": "nominal", "title": null,
      "scale": {"domain": ["WAGE", "fitted WAGE"], "range": ["M0.625,0A0.625,0.625,0,1,1,-0.625,0A0.625,0.625,0,1,1,0.625,0M0,0.625L0,1.25", "circle"]}
    }
  }
}
